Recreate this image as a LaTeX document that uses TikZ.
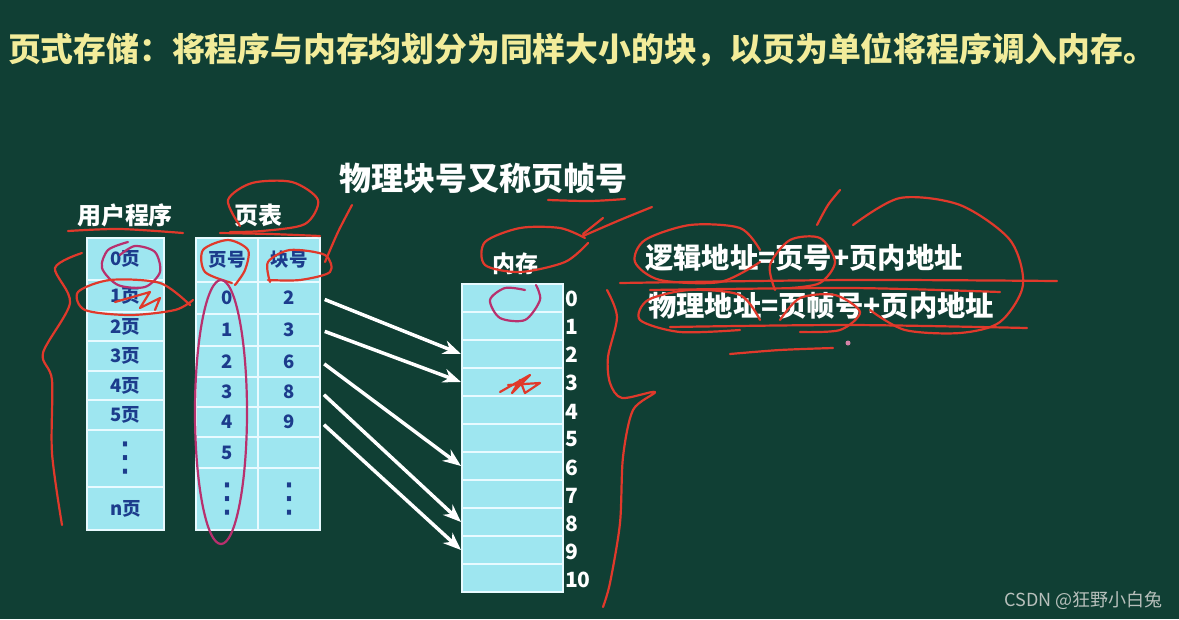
\documentclass[tikz,border=0pt]{standalone}
\usepackage{fontspec}
\newfontfamily\cjk{Noto Sans CJK SC}
\newfontfamily\dv{DejaVu Sans}
\usetikzlibrary{arrows.meta}
\definecolor{bg}{HTML}{103F34}
\definecolor{titleyellow}{HTML}{F2EC9A}
\definecolor{cellcyan}{HTML}{9EE6F0}
\definecolor{cellborder}{HTML}{E8FAFF}
\definecolor{tblue}{HTML}{1C3C8C}
\definecolor{inkred}{HTML}{E0392B}
\definecolor{inkpurple}{HTML}{B8306E}
\definecolor{wmgray}{HTML}{B8C0BC}
\newcommand\setfs[1]{\fontsize{#1}{#1}\selectfont}
\begin{document}
\begin{tikzpicture}[x=1pt,y=-1pt,
  cellbox/.style={draw=cellborder, line width=2pt, fill=cellcyan, inner sep=0pt, text=tblue, font=\cjk\bfseries\setfs{18.5}},
  whitehead/.style={text=white, inner sep=0pt, font=\cjk\bfseries\setfs{24}},
  numlab/.style={text=white, inner sep=0pt, font=\cjk\bfseries\setfs{21}},
  formula/.style={text=white, inner sep=0pt, font=\cjk\bfseries\setfs{28.3}},
  arr/.style={draw=white, line width=3.5pt, shorten <=4pt, -{Stealth[length=18pt,width=14pt]}},
  ink/.style={draw=inkred, line width=2.2pt, line cap=round, line join=round},
  pinkink/.style={draw=inkpurple, line width=2.2pt, line cap=round, line join=round},
  dotsv/.style={font=\dv\setfs{40}}
]
\useasboundingbox (0,0) rectangle (1179,619);
\fill[bg] (0,0) rectangle (1179,619);

% title
\node[anchor=west, inner sep=0pt, text=titleyellow, font=\cjk\bfseries\setfs{32.8}] (title) at (8,50)
  {页式存储：将程序与内存均划分为同样大小的块，以页为单位将程序调入内存。};

% user program table
\node[whitehead] (uphead) at (125,215) {用户程序};
\node[cellbox, minimum width=77pt, minimum height=42pt] (u0) at (125.5,259) {0页};
\node[cellbox, minimum width=77pt, minimum height=32pt] (u1) at (125.5,296) {1页};
\node[cellbox, minimum width=77pt, minimum height=29pt] (u2) at (125.5,326.5) {2页};
\node[cellbox, minimum width=77pt, minimum height=30pt] (u3) at (125.5,356) {3页};
\node[cellbox, minimum width=77pt, minimum height=29pt] (u4) at (125.5,385.5) {4页};
\node[cellbox, minimum width=77pt, minimum height=30pt] (u5) at (125.5,415) {5页};
\node[cellbox, minimum width=77pt, minimum height=57pt, dotsv] (ud) at (125.5,458.5) {⋮};
\node[cellbox, minimum width=77pt, minimum height=43pt] (un) at (125.5,508.5) {n页};

% page table
\node[whitehead] (pthead) at (258,215) {页表};
\node[cellbox, minimum width=62pt, minimum height=44pt] (ph) at (227,260) {页号};
\node[cellbox, minimum width=62pt, minimum height=44pt] (bh) at (289,260) {块号};
\node[cellbox, minimum width=62pt, minimum height=32pt] (p0) at (227,298) {0};
\node[cellbox, minimum width=62pt, minimum height=32pt] (b0) at (289,298) {2};
\node[cellbox, minimum width=62pt, minimum height=32pt] (p1) at (227,330) {1};
\node[cellbox, minimum width=62pt, minimum height=32pt] (b1) at (289,330) {3};
\node[cellbox, minimum width=62pt, minimum height=31pt] (p2) at (227,361.5) {2};
\node[cellbox, minimum width=62pt, minimum height=31pt] (b2) at (289,361.5) {6};
\node[cellbox, minimum width=62pt, minimum height=30pt] (p3) at (227,392) {3};
\node[cellbox, minimum width=62pt, minimum height=30pt] (b3) at (289,392) {8};
\node[cellbox, minimum width=62pt, minimum height=30pt] (p4) at (227,422) {4};
\node[cellbox, minimum width=62pt, minimum height=30pt] (b4) at (289,422) {9};
\node[cellbox, minimum width=62pt, minimum height=31pt] (p5) at (227,452.5) {5};
\node[cellbox, minimum width=62pt, minimum height=31pt] (b5) at (289,452.5) {};
\node[cellbox, minimum width=62pt, minimum height=62pt, dotsv] (pd) at (227,499) {⋮};
\node[cellbox, minimum width=62pt, minimum height=62pt, dotsv] (bd) at (289,499) {⋮};

% memory
\node[whitehead, font=\cjk\bfseries\setfs{23}] (memhead) at (515,264) {内存};
\foreach \i in {0,...,10} {
  \node[cellbox, minimum width=101pt, minimum height=28pt] (m\i) at (512.5,{298+28*\i}) {};
  \node[numlab, anchor=west] (ml\i) at (565,{299+28.1*\i}) {\i};
}

% arrows page table -> memory
\draw[arr] (b0.east) -- (m2.west);
\draw[arr] (b1.east) -- (m3.west);
\draw[arr] (b2.east) -- (m6.west);
\draw[arr] (b3.east) -- (m8.west);
\draw[arr] (b4.east) -- (m9.west);

% notes
\node[whitehead, font=\cjk\bfseries\setfs{32}] (frame) at (483,178) {物理块号又称页帧号};
\node[formula, anchor=west] (logic) at (645,258) {逻辑地址=页号+页内地址};
\node[formula, anchor=west] (phys) at (648,306) {物理地址=页帧号+页内地址};

% watermark
\node[anchor=east, inner sep=0pt, text=wmgray, font=\cjk\setfs{18}] (wm) at (1163,600) {CSDN @狂野小白兔};

% ---- red hand annotations ----
\draw[ink] plot[smooth] coordinates {(68,231) (120,229) (183,233)};
\draw[pinkink] plot[smooth] coordinates {(128,242) (108,250) (102,268) (118,285) (145,287) (160,272) (155,252) (135,246) (120,255)};
\draw[ink] plot[smooth] coordinates {(190,305) (160,283) (110,280) (78,292) (85,310) (130,315) (175,310) (193,300)};
\draw[ink] plot coordinates {(115,302) (150,292) (140,308) (160,298) (155,310)};
\draw[ink] plot[smooth] coordinates {(82,253) (55,268) (70,303) (43,353) (52,380) (52,453) (62,525)};
\draw[ink] plot[smooth] coordinates {(240,226) (228,200) (252,183) (292,182) (318,200) (305,224) (262,231) (230,232)};
\draw[ink] plot[smooth] coordinates {(220,233) (270,234) (320,236)};
\draw[ink] plot[smooth] coordinates {(232,283) (205,272) (203,250) (228,240) (248,250) (245,270) (235,285)};
\draw[pinkink] (221,412) ellipse [x radius=26, y radius=132];
\draw[ink] plot[smooth] coordinates {(270,282) (268,262) (290,250) (325,255) (330,272) (300,280) (268,280)};
\draw[ink] plot[smooth] coordinates {(325,262) (338,232) (352,205)};
\draw[ink] plot[smooth] coordinates {(548,200) (590,201) (625,199)};
\draw[ink] plot[smooth] coordinates {(585,238) (560,228) (520,228) (485,242) (485,265) (520,272) (565,262) (588,243)};
\draw[ink] plot[smooth] coordinates {(583,236) (620,220) (652,207)};
\draw[ink] plot[smooth] coordinates {(583,234) (603,218)};
\draw[pinkink] plot[smooth] coordinates {(536,285) (540,300) (525,320) (500,318) (490,300) (505,288) (525,290)};
\draw[ink] plot coordinates {(500,392) (530,375) (512,393) (520,380) (525,393) (540,383) (508,385)};
\draw[ink] plot[smooth] coordinates {(607,290) (617,317) (608,357) (610,383) (622,398) (655,392) (633,410) (623,457) (620,523) (610,583) (603,607)};
\draw[ink] plot[smooth] coordinates {(760,250) (740,228) (690,225) (645,240) (635,262) (660,280) (720,282) (760,262)};
\draw[ink] plot[smooth] coordinates {(775,290) (770,265) (790,240) (820,238) (835,262) (820,283) (790,288)};
\draw[ink] plot[smooth] coordinates {(817,225) (828,205) (840,190)};
\draw[ink] plot[smooth] coordinates {(853,225) (900,198) (960,205) (1010,240) (1023,285) (1000,322) (960,333) (905,330) (870,310)};
\draw[ink] plot[smooth] coordinates {(620,283) (850,280) (1057,281)};
\draw[ink] plot[smooth] coordinates {(650,290) (850,288) (1000,292)};
\draw[ink] plot[smooth] coordinates {(760,320) (740,295) (690,290) (648,300) (640,320) (680,332) (740,330)};
\draw[ink] plot[smooth] coordinates {(780,320) (800,298) (835,295) (860,312) (840,330) (800,332)};
\draw[ink] plot[smooth] coordinates {(670,327) (850,325) (1027,328)};
\draw[ink] plot[smooth] coordinates {(730,354) (780,350) (833,348)};
\fill[inkpurple!60!white] (848,343) circle (2.5);
\end{tikzpicture}
\end{document}
